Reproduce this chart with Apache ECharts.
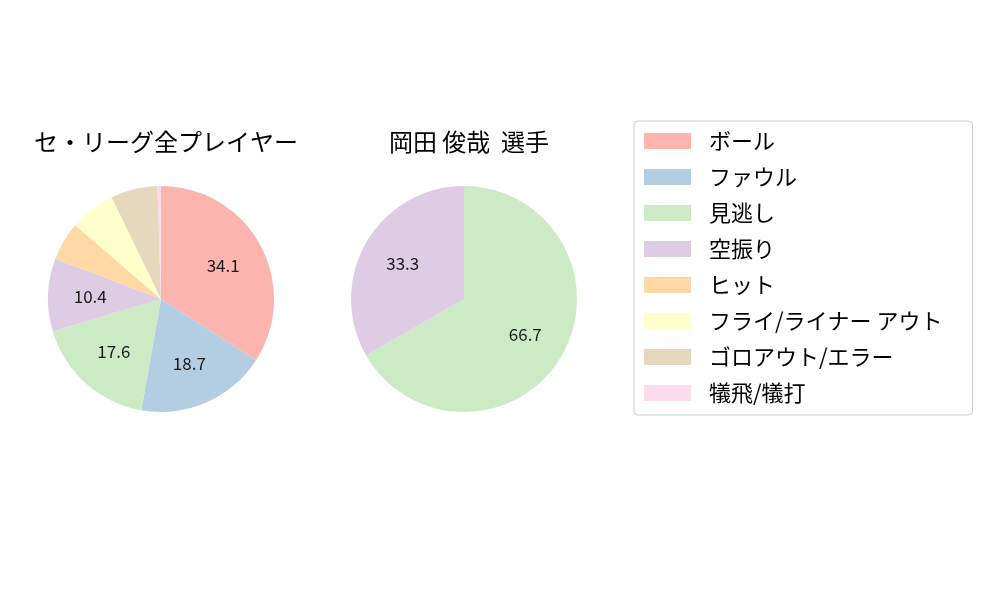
<!DOCTYPE html>
<html>
<head>
<meta charset="utf-8">
<script src="https://cdn.jsdelivr.net/npm/echarts@6/dist/echarts.min.js"></script>
<style>
  html, body { margin: 0; padding: 0; background: #fff; }
  #chart { width: 1000px; height: 600px; }
</style>
</head>
<body>
<div id="chart"></div>
<script>
  // 球種結果の分類と色
  const categories = ['ボール', 'ファウル', '見逃し', '空振り', 'ヒット', 'フライ/ライナー アウト', 'ゴロアウト/エラー', '犠飛/犠打'];
  const colors = ['#fbb4ae', '#b3cde3', '#ccebc5', '#decbe4', '#fed9a6', '#ffffcc', '#e5d8bd', '#fddaec'];

  // セ・リーグ全プレイヤー
  const leagueValues = [34.1, 18.7, 17.6, 10.4, 5.5, 6.5, 6.7, 0.5];

  // 岡田 俊哉 選手
  const playerNames = ['見逃し', '空振り'];
  const playerValues = [66.7, 33.3];

  const titles = ['セ・リーグ全プレイヤー', '岡田 俊哉  選手'];

  const font = '"Noto Sans CJK JP", "Noto Sans", sans-serif';
  const R = 113;

  function pieData(names, values) {
    return names.map((n, i) => ({
      name: n,
      value: values[i],
      itemStyle: { color: colors[categories.indexOf(n)] }
    }));
  }

  // 本体の円グラフ
  function mainPie(cx, names, values) {
    return {
      type: 'pie',
      center: [cx, 299],
      radius: R,
      startAngle: 90,
      clockwise: true,
      data: pieData(names, values),
      label: { show: false },
      labelLine: { show: false },
      itemStyle: { borderWidth: 0 },
      emphasis: { disabled: true }
    };
  }

  // ラベル用 (半径の0.6の位置に数値を置くための透明な円)
  function labelPie(cx, names, values) {
    return {
      type: 'pie',
      center: [cx, 299],
      radius: R * 1.2,
      startAngle: 90,
      clockwise: true,
      silent: true,
      legendHoverLink: false,
      data: names.map((n, i) => ({ name: n, value: values[i] })),
      itemStyle: { color: 'rgba(0,0,0,0)', borderWidth: 0 },
      label: {
        show: true,
        position: 'inside',
        fontFamily: font,
        fontSize: 17,
        color: '#1a1a1a',
        formatter: p => (p.value >= 10 ? p.value.toFixed(1) : '')
      },
      labelLine: { show: false },
      emphasis: { disabled: true }
    };
  }

  const chart = echarts.init(document.getElementById('chart'));

  chart.setOption({
    animation: false,
    title: [
      { text: titles[0], left: 161, top: 125, textAlign: 'center',
        textStyle: { fontFamily: font, fontSize: 24, fontWeight: 'normal', color: '#000' } },
      { text: titles[1], left: 464, top: 125, textAlign: 'center',
        textStyle: { fontFamily: font, fontSize: 24, fontWeight: 'normal', color: '#000' } }
    ],
    legend: {
      orient: 'vertical',
      left: 634,
      top: 121,
      padding: [9, 30, 11, 10],
      backgroundColor: '#fff',
      borderColor: '#cccccc',
      borderWidth: 1,
      borderRadius: 4,
      itemWidth: 47,
      itemHeight: 16,
      itemGap: 14,
      icon: 'rect',
      selectedMode: false,
      data: categories.map((c, i) => ({ name: c, itemStyle: { color: colors[i] } })),
      textStyle: { fontFamily: font, fontSize: 22, lineHeight: 22, color: '#000', padding: [0, 0, 0, 13] }
    },
    series: [
      mainPie(161, categories, leagueValues),
      mainPie(464, playerNames, playerValues),
      labelPie(161, categories, leagueValues),
      labelPie(464, playerNames, playerValues)
    ]
  });
</script>
</body>
</html>
